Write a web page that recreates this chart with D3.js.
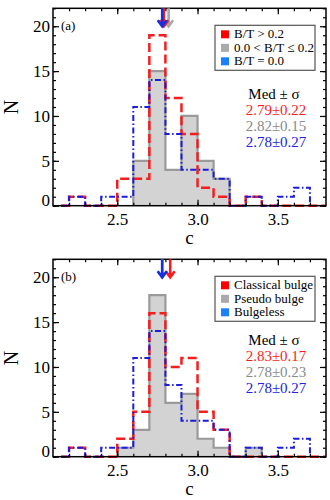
<!DOCTYPE html>
<html>
<head>
<meta charset="utf-8">
<script src="https://cdn.jsdelivr.net/npm/d3@7"></script>
<style>
  body { margin: 0; background: #fff; }
  svg, svg text { font-family: "Liberation Serif", "Times New Roman", Times, "DejaVu Serif", serif !important; }
</style>
</head>
<body>
<svg id="chart" width="330" height="500"></svg>
<script>
// bin left edges (width 0.1)
var binStarts = [2.2, 2.3, 2.4, 2.5, 2.6, 2.7, 2.8, 2.9, 3.0, 3.1, 3.2, 3.3, 3.4, 3.5, 3.6, 3.7];
var binWidth = 0.1;

// panel (a): split by B/T
var labelsA = ["B/T > 0.2", "0.0 < B/T \u2264 0.2", "B/T = 0.0"];
var redA  = [1, 0, 0, 3, 3, 19, 12, 8, 2, 1, 0, 1, 0, 0, 0, 0];
var grayA = [0, 0, 0, 0, 5, 15, 4, 10, 5, 3, 0, 0, 0, 0, 0, 0];
var blueA = [1, 0, 1, 1, 11, 14, 8, 4, 4, 3, 0, 1, 0, 1, 2];
var medA = [2.79, 2.82, 2.78];
var sigA = [0.22, 0.15, 0.27];

// panel (b): split by bulge type
var labelsB = ["Classical bulge", "Pseudo bulge", "Bulgeless"];
var redB  = [1, 0, 0, 2, 5, 16, 10, 11, 5, 3, 0, 0, 0, 0, 0, 0];
var grayB = [0, 0, 0, 1, 3, 18, 6, 7, 2, 1, 0, 1, 0, 0, 0, 0];
var blueB = [1, 0, 1, 1, 11, 14, 8, 4, 4, 3, 0, 1, 0, 1, 2];
var medB = [2.83, 2.78, 2.78];
var sigB = [0.17, 0.23, 0.27];

var xTicks = [2.5, 3.0, 3.5];
var yTicks = [0, 5, 10, 15, 20];

var colors = { red: "#f51e1e", gray: "#9a9a9a", blue: "#1c1cdc" };
var legendColors = ["#ff0000", "#aaaaaa", "#1a80ff"];

var svg = d3.select("#chart");

var left = 53, plotW = 273, plotH = 197.4;

var x = d3.scaleLinear().domain([2.1, 3.8]).range([0, plotW]);
var y = d3.scaleLinear().domain([0, 22]).range([plotH, 0]);

function stepPoints(counts) {
  var pts = [[binStarts[0] - binWidth / 2, 0], [binStarts[0], 0]];
  counts.forEach(function(v, i) {
    pts.push([binStarts[i], v]);
    pts.push([binStarts[i] + binWidth, v]);
  });
  var last = counts.length - 1;
  if (counts[last] !== 0) pts.push([binStarts[last] + binWidth, 0]);
  return pts;
}

function grayPoints(counts) {
  var first = counts.findIndex(function(v) { return v > 0; });
  var last = counts.length - 1;
  while (counts[last] === 0) last--;
  var pts = [[binStarts[first], 0]];
  for (var i = first; i <= last; i++) {
    pts.push([binStarts[i], counts[i]]);
    pts.push([binStarts[i] + binWidth, counts[i]]);
  }
  pts.push([binStarts[last] + binWidth, 0]);
  return pts;
}

var line = d3.line()
  .x(function(d) { return x(d[0]); })
  .y(function(d) { return y(d[1]); });

function drawPanel(top, tag, labels, red, gray, blue, med, sig, statsOffset) {
  var g = svg.append("g").attr("transform", "translate(" + left + "," + top + ")");

  // gray filled histogram
  var gp = grayPoints(gray);
  g.append("path")
    .attr("d", line(gp) + "Z")
    .attr("fill", "#d3d3d3")
    .attr("stroke", "none");
  g.append("path")
    .attr("d", line(gp))
    .attr("fill", "none")
    .attr("stroke", colors.gray)
    .attr("stroke-width", 2.2);

  g.append("path")
    .attr("d", line(stepPoints(red)))
    .attr("fill", "none")
    .attr("stroke", colors.red)
    .attr("stroke-width", 2.5)
    .attr("stroke-dasharray", "9,4");

  g.append("path")
    .attr("d", line(stepPoints(blue)))
    .attr("fill", "none")
    .attr("stroke", colors.blue)
    .attr("stroke-width", 2)
    .attr("stroke-dasharray", "6,2.5,1.5,2.5");

  // axes with inward ticks
  var minorX = d3.range(22, 38).map(function(d) { return d / 10; });
  var minorY = d3.range(0, 23);

  g.append("g").attr("class", "axis")
    .attr("transform", "translate(0," + plotH + ")")
    .call(d3.axisBottom(x).tickValues(minorX).tickSize(-3).tickFormat(""));
  g.append("g").attr("class", "axis")
    .attr("transform", "translate(0," + plotH + ")")
    .call(d3.axisBottom(x).tickValues(xTicks).tickSize(-6).tickPadding(7).tickFormat(d3.format(".1f")));
  g.append("g").attr("class", "axis")
    .call(d3.axisTop(x).tickValues(minorX).tickSize(-3).tickFormat(""));
  g.append("g").attr("class", "axis")
    .call(d3.axisTop(x).tickValues(xTicks).tickSize(-6).tickFormat(""));

  g.append("g").attr("class", "axis")
    .call(d3.axisLeft(y).tickValues(minorY).tickSize(-3).tickFormat(""));
  var yl = g.append("g").attr("class", "axis")
    .call(d3.axisLeft(y).tickValues(yTicks).tickSize(-6).tickPadding(3));
  g.append("g").attr("class", "axis")
    .attr("transform", "translate(" + plotW + ",0)")
    .call(d3.axisRight(y).tickValues(minorY).tickSize(-3).tickFormat(""));
  g.append("g").attr("class", "axis")
    .attr("transform", "translate(" + plotW + ",0)")
    .call(d3.axisRight(y).tickValues(yTicks).tickSize(-6).tickFormat(""));

  g.selectAll(".axis .domain").remove();
  g.selectAll(".axis").attr("font-family", null);
  g.selectAll(".axis line").attr("stroke", "#000").attr("stroke-width", 1.2);
  g.selectAll(".axis text")
    .attr("font-size", 17)
    .attr("fill", "#000");
  yl.selectAll(".tick text").filter(function(d) { return d === 0; }).attr("dy", "0em");

  g.append("rect")
    .attr("width", plotW).attr("height", plotH)
    .attr("fill", "none").attr("stroke", "#000").attr("stroke-width", 1.5);

  // median arrows
  var arrowOrder = [1, 0, 2];
  arrowOrder.forEach(function(i) {
    var ax = x(med[i]);
    var col = [colors.red, "#a8a8a8", "#1430e0"][i];
    g.append("path")
      .attr("d", "M" + ax + ",0 L" + ax + ",18 M" + (ax - 4.5) + ",12 L" + ax + ",18 L" + (ax + 4.5) + ",12")
      .attr("fill", "none")
      .attr("stroke", col)
      .attr("stroke-width", 2.6);
  });

  // panel tag
  g.append("text").attr("x", 8).attr("y", 22).attr("font-size", 13).text(tag);

  // axis titles
  g.append("text")
    .attr("x", x(2.95)).attr("y", plotH + 38)
    .attr("text-anchor", "middle").attr("font-size", 19)
    .text("c");
  g.append("text")
    .attr("transform", "translate(" + (18 - left) + "," + plotH / 2 + ") rotate(-90)")
    .attr("text-anchor", "middle").attr("font-size", 20)
    .text("N");

  // legend
  var lg = g.append("g").attr("transform", "translate(" + (215 - left) + ",17)");
  lg.append("rect").attr("width", 100).attr("height", 45)
    .attr("fill", "#fff").attr("stroke", "#555").attr("stroke-width", 1.2);
  labels.forEach(function(l, i) {
    lg.append("rect").attr("x", 6).attr("y", 5 + i * 13.5).attr("width", 8).attr("height", 8)
      .attr("fill", legendColors[i]);
    lg.append("text").attr("x", 19).attr("y", 13 + i * 13.5)
      .attr("font-size", 13).text(l);
  });

  // stats
  var sx = 274 - left;
  g.append("text").attr("x", sx).attr("y", statsOffset)
    .attr("text-anchor", "middle").attr("font-size", 15)
    .text("Med \u00b1 \u03c3");
  var statCols = [colors.red, "#8a8a8a", "#2222e0"];
  med.forEach(function(m, i) {
    g.append("text").attr("x", sx + 2).attr("y", statsOffset + 15.8 * (i + 1))
      .attr("text-anchor", "middle").attr("font-size", 15)
      .attr("fill", statCols[i])
      .text(m.toFixed(2) + "\u00b1" + sig[i].toFixed(2));
  });
}

drawPanel(8.3, "(a)", labelsA, redA, grayA, blueA, medA, sigA, 91);
drawPanel(259.3, "(b)", labelsB, redB, grayB, blueB, medB, sigB, 86);
</script>
</body>
</html>
